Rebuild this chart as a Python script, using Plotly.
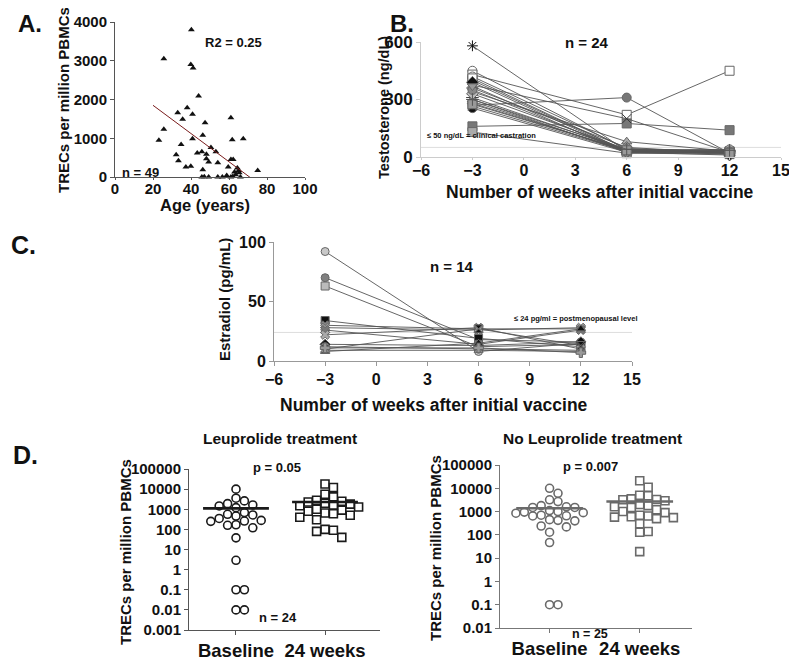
import plotly.graph_objects as go
import numpy as np

W, H = 797, 663
OFF = 8  # page body margin

# ---------------- DATA ----------------
# Panel A: age vs TRECs
age = [40.2, 25.7, 39.9, 41.1, 44.0, 38.0, 33.0, 40.8, 35.6, 61.0, 47.4, 25.7, 46.2, 40.8,
       23.1, 61.7, 67.5, 34.8, 50.5, 53.1, 43.3, 45.7, 32.2, 48.1, 33.4, 48.1, 49.3, 54.1,
       61.0, 62.2, 37.3, 39.9, 59.6, 64.4, 65.1, 65.4, 62.9, 75.1, 46.2, 45.7, 49.3, 54.1,
       56.5, 61.0, 66.0, 58.8, 63.5, 47.0, 62.0]
trecs_a = [3800, 3050, 2900, 2810, 2090, 1790, 1660, 1620, 1490, 1530, 1400, 1230, 1075, 990,
           950, 960, 990, 840, 760, 650, 620, 650, 575, 585, 420, 470, 390, 370,
           450, 450, 260, 275, 260, 230, 170, 110, 130, 165, 190, 0, 0, 0,
           0, 0, 0, 40, 60, 5, 15]
fit_age = [20, 73]
fit_trecs = [1850, -80]

# Panel B: testosterone at weeks
weeks = [-3, 6, 12]
testosterone = [
    [580, 30, 20], [450, 40, 20], [430, 220, 450], [270, 310, 20], [160, 175, 140],
    [375, 200, 25], [400, 30, 30], [255, 25, 22], [130, 20, 15], [420, 45, 25],
    [340, 80, 30], [360, 50, 20], [310, 35, 30], [290, 30, 15], [300, 25, 35],
    [330, 40, 25], [265, 30, 20], [410, 30, 25], [280, 35, 40], [390, 25, 10],
    [350, 30, 30], [370, 20, 35], [275, 35, 20], [300, 40, 35]]
testo_threshold = 50

# Panel C: estradiol
estradiol = [
    [92, 8, 15], [70, 18, 16], [63, 12, 14], [34, 19, 12], [30, 27, 27],
    [28, 26, 28], [26, 14, 26], [22, 28, 10], [14, 13, 16], [12, 10, 9],
    [10, 27, 13], [8, 15, 27], [9, 9, 8], [11, 11, 7]]
estra_threshold = 24

# Panel D
groups = ["Baseline", "24 weeks"]
leu_baseline = [10000, 3550, 2600, 1900, 1640, 1460, 1200, 680, 560, 520, 460, 350, 280, 260,
                250, 170, 160, 120, 38, 2.9, 0.1, 0.1, 0.01, 0.01]
leu_24wk = [18000, 12000, 5600, 4100, 2800, 2500, 2300, 2000, 1800, 1600, 1500, 1300, 1000,
            900, 800, 650, 600, 500, 400, 300, 100, 90, 80, 40]
leu_centre = [1100, 2300]
noleu_baseline = [10000, 6100, 3200, 2700, 1800, 1600, 1500, 1500, 1100, 1000, 950, 900, 850,
                  700, 660, 650, 450, 420, 400, 240, 220, 130, 47, 0.1, 0.1]
noleu_24wk = [21000, 11000, 5000, 4800, 3500, 3300, 3200, 2900, 2000, 1800, 1600, 1500, 1200,
              1000, 900, 700, 650, 600, 580, 550, 500, 300, 140, 130, 19]
noleu_centre = [1380, 2700]

# ---------------- STYLES ----------------
FONT = "Liberation Sans"
B_styles = [
    ("asterisk-open", "#111"), ("circle", "#fff"), ("square", "#fff"), ("circle", "#777"),
    ("square", "#777"), ("x-thin-open", "#333"), ("square", "#111"), ("circle", "#111"),
    ("square", "#aaa"), ("circle", "#fff"), ("triangle-up", "#aaa"), ("diamond", "#999"),
    ("cross-thin-open", "#333"), ("triangle-up", "#111"), ("triangle-up", "#888"),
    ("diamond", "#bbb"), ("x-thin-open", "#666"), ("square", "#fff"), ("circle", "#bbb"),
    ("diamond", "#111"), ("circle", "#888"), ("triangle-down", "#999"), ("square", "#999"),
    ("cross-thin-open", "#555")]
C_styles = [
    ("circle", "#c8c8c8"), ("circle", "#808080"), ("square", "#bbb"), ("square", "#111"),
    ("x", "#888"), ("x", "#999"), ("x", "#777"), ("x", "#aaa"), ("diamond", "#111"),
    ("circle", "#aaa"), ("hourglass", "#111"), ("triangle-up", "#111"), ("triangle-up", "#999"),
    ("cross", "#999")]

FW, FH = W - OFF, H - OFF


def pxf(x):
    return (x - OFF) / FW


def pyf(y):
    return 1 - (y - OFF) / FH


fig = go.Figure()

# Panel A
fig.add_trace(go.Scatter(x=age, y=trecs_a, mode="markers", xaxis="x", yaxis="y",
                         marker=dict(symbol="triangle-up", size=6, color="#111"),
                         showlegend=False, cliponaxis=False))
fig.add_trace(go.Scatter(x=fit_age, y=fit_trecs, mode="lines", xaxis="x", yaxis="y",
                         line=dict(color="#7a1c1c", width=1), showlegend=False))

# Panel B
fig.add_trace(go.Scatter(x=[-6, 15], y=[testo_threshold] * 2, mode="lines", xaxis="x2", yaxis="y2",
                         line=dict(color="#dddddd", width=1), showlegend=False))
for vals, (sym, col) in zip(testosterone, B_styles):
    lc = col if sym.endswith("open") else "#666"
    fig.add_trace(go.Scatter(x=weeks, y=vals, mode="lines+markers", xaxis="x2", yaxis="y2",
                             line=dict(color="#555", width=0.9),
                             marker=dict(symbol=sym, size=9, color=col,
                                         line=dict(color=lc, width=1)),
                             showlegend=False, cliponaxis=False))

# Panel C
fig.add_trace(go.Scatter(x=[-6, 15], y=[estra_threshold] * 2, mode="lines", xaxis="x3", yaxis="y3",
                         line=dict(color="#dddddd", width=1), showlegend=False))
for vals, (sym, col) in zip(estradiol, C_styles):
    fig.add_trace(go.Scatter(x=weeks, y=vals, mode="lines+markers", xaxis="x3", yaxis="y3",
                             line=dict(color="#555", width=0.9),
                             marker=dict(symbol=sym, size=8, color=col,
                                         line=dict(color="#666", width=1)),
                             showlegend=False, cliponaxis=False))


# Panel D beeswarm offsets (computed from values in pixel space)
def swarm(vals, px_per_decade, px_per_unit, d=8.4):
    ys = [np.log10(v) * px_per_decade for v in vals]
    order = np.argsort(ys)[::-1]
    placed = []
    offs = [0.0] * len(vals)
    cands = [0]
    for j in range(1, 12):
        cands += [j, -j]
    for i in order:
        for c in cands:
            xo = c * d
            if all((xo - px_) ** 2 + (ys[i] - py_) ** 2 >= (d * 0.97) ** 2 for px_, py_ in placed):
                placed.append((xo, ys[i]))
                offs[i] = xo / px_per_unit
                break
    return offs


def add_d(base, wk, centre, xa, ya, col, ppd, ppu):
    for gi, (vals, sym) in enumerate([(base, "circle-open"), (wk, "square-open")]):
        offs = swarm(vals, ppd, ppu)
        fig.add_trace(go.Scatter(x=[gi + 1 + o for o in offs], y=vals, mode="markers",
                                 xaxis=xa, yaxis=ya,
                                 marker=dict(symbol=sym, size=8, color=col, line=dict(width=1.6, color=col)),
                                 showlegend=False, cliponaxis=False))
        fig.add_trace(go.Scatter(x=[gi + 1 - 0.37, gi + 1 + 0.37], y=[centre[gi]] * 2, mode="lines",
                                 xaxis=xa, yaxis=ya, line=dict(color=col, width=2.6),
                                 showlegend=False))


add_d(leu_baseline, leu_24wk, leu_centre, "x4", "y4", "#1a1a1a", 20.1, 89)
add_d(noleu_baseline, noleu_24wk, noleu_centre, "x5", "y5", "#6a6a6a", 23.3, 90)

tickf = dict(family=FONT, size=15, color="#111", weight="bold")
common = dict(showgrid=False, zeroline=False, showline=True, ticks="outside", ticklen=4,
              automargin=False, tickangle=0)

fig.update_layout(
    template="none",
    width=FW, height=FH, margin=dict(l=0, r=0, t=0, b=0, pad=0), autosize=False,
    paper_bgcolor="white", plot_bgcolor="white",
    font=dict(family=FONT, color="#111"),
    xaxis=dict(domain=[pxf(115), pxf(305)], range=[0, 100], tickvals=[0, 20, 40, 60, 80, 100],
               linecolor="#555", tickcolor="#555", tickfont=tickf, anchor="y",
               **dict(common, ticklen=2)),
    yaxis=dict(domain=[pyf(177), pyf(22)], range=[0, 4000], tickvals=[0, 1000, 2000, 3000, 4000],
               linecolor="#555", tickcolor="#555", tickfont=tickf, anchor="x", **common),
    xaxis2=dict(domain=[pxf(421), pxf(781)], range=[-6, 15], tickvals=list(range(-6, 16, 3)),
                linecolor="#ccc", tickcolor="#ccc", tickfont=dict(tickf, size=16), anchor="y2",
                **dict(common, ticklen=2)),
    yaxis2=dict(domain=[pyf(157), pyf(42)], range=[0, 600], tickvals=[0, 300, 600],
                linecolor="#ccc", tickcolor="#ccc", tickfont=dict(tickf, size=17), anchor="x2", **common),
    xaxis3=dict(domain=[pxf(274), pxf(632)], range=[-6, 15], tickvals=list(range(-6, 16, 3)),
                linecolor="#999", tickcolor="#999", tickfont=dict(tickf, size=16), anchor="y3", **common),
    yaxis3=dict(domain=[pyf(361), pyf(242)], range=[0, 100], tickvals=[0, 50, 100],
                linecolor="#999", tickcolor="#999", tickfont=dict(tickf, size=16), anchor="x3", **common),
    xaxis4=dict(domain=[pxf(189), pxf(380)], range=[0.472, 2.618], tickvals=[1, 2], ticktext=groups,
                linecolor="#555", tickcolor="#555", tickfont=dict(tickf, size=18.5), anchor="y4", **common),
    yaxis4=dict(domain=[pyf(630), pyf(469)], type="log", range=[-3, 5],
                tickvals=[0.001, 0.01, 0.1, 1, 10, 100, 1000, 10000, 100000],
                ticktext=["0.001", "0.01", "0.1", "1", "10", "100", "1000", "10000", "100000"],
                linecolor="#555", tickcolor="#555", tickfont=dict(tickf, size=15), anchor="x4", **common),
    xaxis5=dict(domain=[pxf(500), pxf(692)], range=[0.45, 2.58], tickvals=[1, 2], ticktext=groups,
                linecolor="#777", tickcolor="#777", tickfont=dict(tickf, size=18.5), anchor="y5", **common),
    yaxis5=dict(domain=[pyf(628), pyf(465)], type="log", range=[-2, 5],
                tickvals=[0.01, 0.1, 1, 10, 100, 1000, 10000, 100000],
                ticktext=["0.01", "0.1", "1", "10", "100", "1000", "10000", "100000"],
                linecolor="#777", tickcolor="#777", tickfont=dict(tickf, size=15), anchor="x5", **common),
)

try:
    fig.update_layout(xaxis_ticklabelstandoff=-4, xaxis2_ticklabelstandoff=-3)
except Exception:
    pass


def ann(text, x, y, size, angle=0, bold=True, xanchor="center", color="#111"):
    fig.add_annotation(text=text, x=pxf(x), y=pyf(y), xref="paper", yref="paper",
                       showarrow=False, textangle=angle, xanchor=xanchor, yanchor="middle",
                       font=dict(family=FONT, size=size, color=color,
                                 weight="bold" if bold else "normal"))


# Panel A
ann("A.", 30, 24, 24)
ann("R2 = 0.25", 233, 42, 13)
ann("n = 49", 140, 172, 13)
ann("TRECs per million PBMCs", 63, 100, 15, -90)
ann("Age (years)", 205, 205, 16.5)
# Panel B
ann("B.", 402, 23, 24)
ann("n = 24", 587, 42, 15)
ann("≤ 50 ng/dL = clinical castration", 425, 135, 7.5, xanchor="left")
ann("Testosterone (ng/dL)", 384, 108, 14.5, -90)
ann("Number of weeks after initial vaccine", 600, 192, 17.5)
# Panel C
ann("C.", 24, 245, 25)
ann("n = 14", 452, 267, 15)
ann("≤ 24 pg/ml = postmenopausal level", 512, 318, 7.5, xanchor="left")
ann("Estradiol (pg/mL)", 224, 300, 15, -90)
ann("Number of weeks after initial vaccine", 434, 405, 17.5)
# Panel D
ann("D.", 25, 455, 25)
ann("Leuprolide treatment", 280, 438, 15.5)
ann("p = 0.05", 277, 467, 13)
ann("n = 24", 278, 617, 13)
ann("TRECs per million PBMCs", 125, 552, 15, -90)
ann("No Leuprolide treatment", 592, 438, 15.5)
ann("p = 0.007", 590, 466, 13)
ann("n = 25", 590, 634, 12.5)
ann("TRECs per million PBMCs", 435, 548, 15, -90)

fig.write_html("out.html")
